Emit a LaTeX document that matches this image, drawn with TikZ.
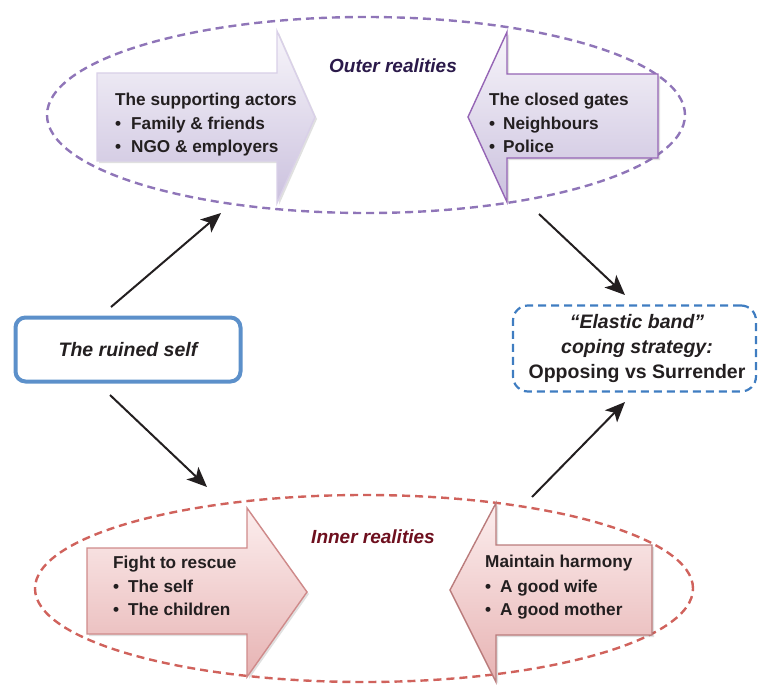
\documentclass[tikz,border=0pt]{standalone}
\usepackage{fontspec}
\setmainfont{Liberation Sans}
\usetikzlibrary{shapes.geometric,arrows.meta,shadows}
\definecolor{txt}{HTML}{231F20}
\definecolor{pdash}{HTML}{8F75B8}
\definecolor{rdash}{HTML}{D0625C}
\definecolor{outercol}{HTML}{2B1A4A}
\definecolor{innercol}{HTML}{6E0F1E}
\definecolor{selfblue}{HTML}{3F7DC1}
\definecolor{lavtop}{HTML}{F7F5FA}
\definecolor{lavbot}{HTML}{CBC1DE}
\definecolor{lavedgeA}{HTML}{D9D0E8}
\definecolor{lavedgeB}{HTML}{9565B5}
\definecolor{pinktop}{HTML}{FCEEEE}
\definecolor{pinkbot}{HTML}{E7B3B3}
\definecolor{pinkedge}{HTML}{CF8A8A}
\begin{document}
\begin{tikzpicture}[x=1pt,y=-1pt,
  realm/.style={ellipse, dashed, line width=2.4pt, dash pattern=on 8pt off 5pt, inner sep=0pt},
  bigarrow/.style={line width=1.4pt, line join=miter,
    drop shadow={shadow xshift=2pt, shadow yshift=-2pt, opacity=0.2, fill=black!60}},
  arrowtxt/.style={anchor=base west, inner sep=0pt, text=txt, font=\fontsize{17.2}{20}\selectfont\bfseries},
  realmlabel/.style={anchor=base, inner sep=0pt, font=\fontsize{19}{22}\selectfont\bfseries\itshape},
  conn/.style={line width=2pt, draw=txt, -{Stealth[length=20pt,width=17pt,inset=5pt]}}]
\useasboundingbox (0,0) rectangle (758,685);

% ellipses
\node[realm, draw=pdash, minimum width=638pt, minimum height=196pt] (outer) at (366,115) {};
\node[realm, draw=rdash, minimum width=658pt, minimum height=187pt] (inner) at (364,588.5) {};

% top-left arrow
\path[bigarrow, draw=lavedgeA, top color=lavtop, bottom color=lavbot]
  (97,73) -- (277,73) -- (277,31) -- (315,117) -- (277,203) -- (277,161) -- (97,161) -- cycle;
% top-right arrow
\path[bigarrow, draw=lavedgeB, top color=lavtop, bottom color=lavbot]
  (468,117) -- (507,32) -- (507,74) -- (658,74) -- (658,158) -- (507,158) -- (507,202) -- cycle;
% bottom-left arrow
\path[bigarrow, draw=pinkedge, top color=pinktop, bottom color=pinkbot]
  (87,548) -- (247,548) -- (247,508) -- (307,592) -- (247,677) -- (247,634) -- (87,634) -- cycle;
% bottom-right arrow
\path[bigarrow, draw=pinkedge!90!black, top color=pinktop, bottom color=pinkbot]
  (450,590) -- (496,503) -- (496,545) -- (652,545) -- (652,635) -- (496,635) -- (496,682) -- cycle;

% realm labels
\node[realmlabel, text=outercol] (outerlbl) at (393,73) {Outer realities};
\node[realmlabel, text=innercol] (innerlbl) at (373,543) {Inner realities};

% texts top-left
\node[arrowtxt] (sa0) at (115,105) {The supporting actors};
\node[arrowtxt] (sa1) at (115,129) {\makebox[16pt][l]{•}Family \& friends};
\node[arrowtxt] (sa2) at (115,152) {\makebox[16pt][l]{•}NGO \& employers};
% texts top-right
\node[arrowtxt] (cg0) at (489,105) {The closed gates};
\node[arrowtxt] (cg1) at (489,129) {\makebox[14pt][l]{•}Neighbours};
\node[arrowtxt] (cg2) at (489,152) {\makebox[14pt][l]{•}Police};
% texts bottom-left
\node[arrowtxt] (fr0) at (113,568) {Fight to rescue};
\node[arrowtxt] (fr1) at (113,592) {\makebox[15pt][l]{•}The self};
\node[arrowtxt] (fr2) at (113,615) {\makebox[15pt][l]{•}The children};
% texts bottom-right
\node[arrowtxt] (mh0) at (485,567) {Maintain harmony};
\node[arrowtxt] (mh1) at (485,592) {\makebox[15pt][l]{•}A good wife};
\node[arrowtxt] (mh2) at (485,615) {\makebox[15pt][l]{•}A good mother};

% ruined self
\node[draw=selfblue!85, line width=4pt, rounded corners=10pt, minimum width=225pt, minimum height=64pt,
      text=txt, font=\fontsize{19.5}{22}\selectfont\bfseries\itshape] (self) at (128,349.5) {The ruined self};

% elastic band
\node[draw=selfblue, line width=2.2pt, dashed, dash pattern=on 8pt off 5pt, rounded corners=15pt,
      minimum width=243pt, minimum height=86pt] (elastic) at (634.5,348.5) {};
\node[anchor=base, inner sep=0pt, text=txt, font=\fontsize{19.5}{22}\selectfont\bfseries\itshape] (el1) at (637,328) {“Elastic band”};
\node[anchor=base, inner sep=0pt, text=txt, font=\fontsize{19.5}{22}\selectfont\bfseries\itshape] (el2) at (637,353) {coping strategy:};
\node[anchor=base, inner sep=0pt, text=txt, font=\fontsize{19.5}{22}\selectfont\bfseries] (el3) at (637,378) {Opposing vs Surrender};

% connectors
\coordinate (c1s) at (111,307);
\coordinate (c1e) at (221,213);
\coordinate (c2s) at (110,395);
\coordinate (c2e) at (207,487);
\coordinate (c3s) at (539,214);
\coordinate (c3e) at (625,295);
\coordinate (c4s) at (532,497);
\coordinate (c4e) at (625,402);
\draw[conn] (c1s) -- (c1e);
\draw[conn] (c2s) -- (c2e);
\draw[conn] (c3s) -- (c3e);
\draw[conn] (c4s) -- (c4e);
\end{tikzpicture}
\end{document}
